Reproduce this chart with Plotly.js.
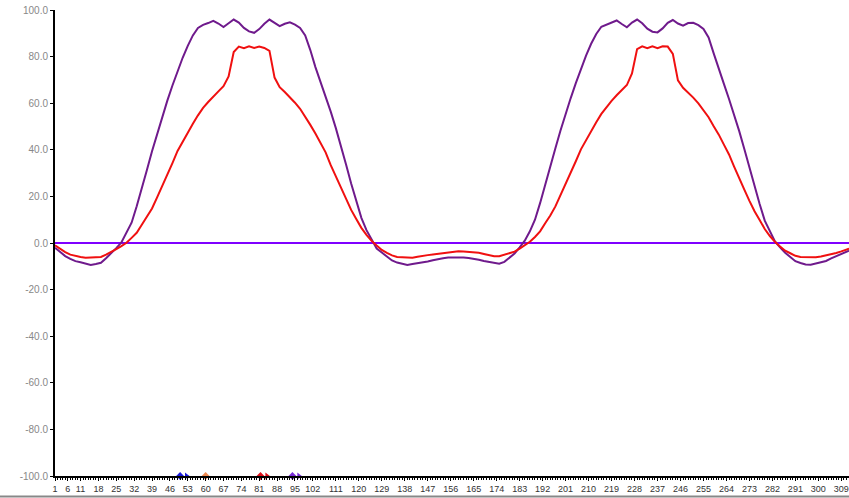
<!DOCTYPE html>
<html>
<head>
<meta charset="utf-8">
<script src="https://cdn.plot.ly/plotly-3.0.1.min.js"></script>
<style>html,body{margin:0;padding:0;background:#fff;}#chart{width:849px;height:498px;}</style>
</head>
<body>
<div id="chart"></div>
<script>
// category index of each sample (every second category, plus the last one)
const sampleIdx = [];
for (let k = 0; k < 156; k++) sampleIdx.push(2 * k + 1);
sampleIdx.push(312);

// purple series
const purpleVals = [
  -2, -3.9, -5.6, -6.8, -7.8, -8.3, -8.8, -9.4, -9, -8.5, -6.5, -4.5, -2.2,
  0.2, 4.3, 8.7, 15.8, 23.1, 31.3, 39.4, 47, 54.4, 61.1, 67.6, 73.7, 79.5, 84.6, 89.1, 92.3,
  93.6, 94.4, 95.3, 94.2, 92.7, 94.3, 95.9, 94.6, 92.3, 90.8, 90.2, 91.8, 94.1, 95.9, 94.4,
  93.1, 94.1, 94.7, 93.7, 92.3, 89.1, 82.8, 75.5, 69.4, 63.2, 56.4, 49.3, 41.9, 33.7, 25.5,
  18.3, 10.8, 5.5, 1.4,
  -2.4, -4.1, -5.7, -7.5, -8.4, -9, -9.4, -9, -8.7, -8.4, -7.9, -7.4, -6.8, -6.5, -6.2, -6.1,
  -6.1, -6.2, -6.4, -6.7, -7.2, -7.7, -8.2, -8.6, -8.9, -8.1, -6.4, -4.5, -1.9,
  1.0, 5.0, 10.0, 17.1, 24.6, 32.7, 40.7, 48.3, 55.6, 62.2, 68.6, 74.8, 80.4, 85.5, 89.7,
  92.8, 93.8, 94.5, 95.5, 94, 92.6, 94.6, 95.9, 94.3, 92, 90.7, 90.4, 92.1, 94.5, 95.7, 94.2,
  93.3, 94.4, 94.5, 93.5, 91.9, 88.2, 81.4, 74.4, 68.3, 61.8, 55.1, 48, 40.3, 32.3, 24.1,
  16.7, 9.6, 4.8, 0.7,
  -1.9, -4.2, -6, -7.8, -8.6, -9.2, -9.3, -8.8, -8.3, -7.7, -6.6, -5.6, -4.7, -3.8, -3.3
];

// red series
const redVals = [
  -1, -2.6, -3.9, -5, -5.6, -6, -6.3, -6.2, -6.1, -6, -5, -3.9, -2.6,
  -1.3, 0.1, 2.2, 4.4, 7.8, 11.2, 14.8, 19.6, 24.4, 29, 34.3, 39.5, 43.5, 47.4, 51.2, 54.8,
  58, 60.5, 63, 65.1, 67.3, 71.5, 82, 84.3, 83.6, 84.4, 83.7, 84.3, 83.7, 82.5, 71, 66.9,
  64.8, 62.7, 60.2, 57.6, 54.3, 50.7, 47, 42.9, 38.9, 33.4, 28.4, 23.7, 18.9, 14.2, 10.3,
  6.5, 3.5, 0.9,
  -1.1, -3, -4.2, -5.3, -6, -6.2, -6.3, -6.3, -5.9, -5.4, -5.2, -4.9, -4.6, -4.3, -4, -3.7,
  -3.5, -3.7, -3.8, -4, -4.2, -4.7, -5.2, -5.7, -5.7, -5.1, -4.5, -3.7, -2.4,
  -0.9, 0.5, 2.6, 5, 8.5, 11.8, 15.7, 20.4, 25.2, 30, 35.1, 40.2, 44.2, 48.1, 51.8, 55.4,
  58.4, 61, 63.4, 65.5, 67.8, 72.8, 83.2, 84.4, 83.6, 84.4, 83.6, 84.4, 84.3, 81.2, 69.8,
  66.6, 64.6, 62.4, 59.9, 57.1, 54, 50.1, 46.5, 42.2, 38, 32.8, 27.6, 22.9, 18.1, 13.6,
  9.9, 6, 3, 0.5,
  -1.5, -3.3, -4.4, -5.5, -6, -6.1, -6.1, -6.1, -5.8, -5.4, -5, -4.3, -3.6, -2.8, -2.4
];

// x tick labels
const xTickVals = [1, 6, 11, 18, 25, 32, 39, 46, 53, 60, 67, 74, 81, 88, 95, 102, 111, 120,
  129, 138, 147, 156, 165, 174, 183, 192, 201, 210, 219, 228, 237, 246, 255, 264, 273, 282,
  291, 300, 309];
const yTickVals = [-100, -80, -60, -40, -20, 0, 20, 40, 60, 80, 100];

// small coloured markers sitting on the x axis
const axisMarkX = [50, 52.5, 60, 81.5, 84, 94, 96.5];
const axisMarkY = [-100, -100, -100, -100, -100, -100, -100];
const axisMarkColors = ['#1a1adc', '#1a1adc', '#f08a50', '#e0101a', '#e0101a', '#7a2cd8', '#7a2cd8'];
const axisMarkSymbols = ['diamond', 'triangle-right', 'diamond', 'diamond', 'triangle-right', 'diamond', 'triangle-right'];

const traces = [
  {
    x: sampleIdx, y: purpleVals, type: 'scatter', mode: 'lines',
    line: {color: '#6f1a8c', width: 2}, hoverinfo: 'skip'
  },
  {
    x: sampleIdx, y: redVals, type: 'scatter', mode: 'lines',
    line: {color: '#f01010', width: 2}, hoverinfo: 'skip'
  },
  {
    x: axisMarkX, y: axisMarkY, type: 'scatter', mode: 'markers', cliponaxis: false,
    marker: {color: axisMarkColors, symbol: axisMarkSymbols, size: 6}, hoverinfo: 'skip'
  }
];

const layout = {
  width: 849, height: 498,
  margin: {l: 55, r: 0, t: 10, b: 22},
  paper_bgcolor: '#ffffff', plot_bgcolor: '#ffffff',
  showlegend: false,
  font: {family: 'Liberation Sans, Arial, sans-serif', size: 9, color: '#555'},
  xaxis: {
    type: 'linear', range: [1, 312],
    tickmode: 'array', tickvals: xTickVals, ticktext: xTickVals.map(String),
    showgrid: false, zeroline: false,
    showline: true, linecolor: '#000', linewidth: 2,
    ticks: 'outside', ticklen: 3, tickcolor: '#000', tickwidth: 1,
    tickfont: {size: 9, color: '#333'},
    minor: {tickmode: 'linear', tick0: 1, dtick: 1, ticks: 'outside', ticklen: 2, tickcolor: '#000', showgrid: false}
  },
  yaxis: {
    range: [-100, 100],
    tickmode: 'array', tickvals: yTickVals,
    ticktext: yTickVals.map(v => v.toFixed(1)),
    showgrid: false,
    zeroline: true, zerolinecolor: '#7f00ff', zerolinewidth: 2,
    showline: true, linecolor: '#000', linewidth: 2,
    ticks: 'outside', ticklen: 3, tickcolor: '#000',
    tickfont: {size: 10, color: '#888'}
  },
  shapes: [
    {type: 'line', xref: 'paper', yref: 'paper', x0: -0.07, x1: 1, y0: -0.044, y1: -0.044,
     line: {color: '#888', width: 2}}
  ]
};

Plotly.newPlot('chart', traces, layout, {staticPlot: true, displayModeBar: false});
</script>
</body>
</html>
